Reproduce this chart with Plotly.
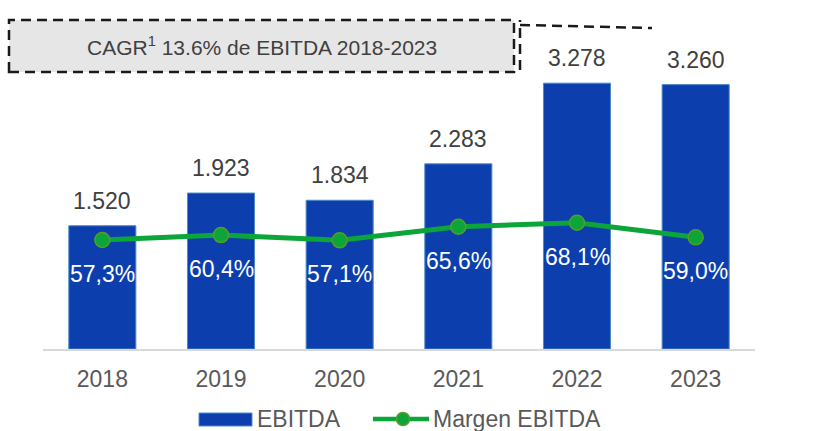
import plotly.graph_objects as go

years = ["2018", "2019", "2020", "2021", "2022", "2023"]
ebitda = [1520, 1923, 1834, 2283, 3278, 3260]
ebitda_labels = ["1.520", "1.923", "1.834", "2.283", "3.278", "3.260"]
margin = [57.3, 60.4, 57.1, 65.6, 68.1, 59.0]
margin_labels = ["57,3%", "60,4%", "57,1%", "65,6%", "68,1%", "59,0%"]
cagr_text = "CAGR<sup>1</sup> 13.6% de EBITDA 2018-2023"
legend_names = ["EBITDA", "Margen EBITDA"]

W, H = 819, 431
L, R, T, B = 43, 64, 20, 82
PW = W - L - R
PH = H - T - B

BAR = "#0c3fad"
BAR_EDGE = "#4f8ac8"
GREEN = "#0ba53a"
GREEN_EDGE = "#5a9a2a"
FONT = "Liberation Sans, Arial, sans-serif"


def px(x):
    return (x - L) / PW


def py(y):
    return (H - B - y) / PH


fig = go.Figure()
fig.add_trace(go.Bar(
    x=years, y=ebitda, name=legend_names[0],
    marker=dict(color=BAR, line=dict(color=BAR_EDGE, width=1)),
    showlegend=False, hoverinfo="x+y",
))
fig.add_trace(go.Scatter(
    x=years, y=margin, name=legend_names[1], yaxis="y2",
    mode="lines+markers",
    line=dict(color=GREEN, width=5),
    marker=dict(size=15, color=GREEN, line=dict(color=GREEN_EDGE, width=1.5)),
    showlegend=False,
))

annotations = []
for i, (v, t) in enumerate(zip(ebitda, ebitda_labels)):
    annotations.append(dict(x=i, y=v, xref="x", yref="y", text=t, showarrow=False,
                            yanchor="middle", yshift=25,
                            font=dict(family=FONT, size=23, color="#404040")))
for i, (v, t) in enumerate(zip(margin, margin_labels)):
    annotations.append(dict(x=i, y=v, xref="x", yref="y2", text=t, showarrow=False,
                            yanchor="middle", yshift=-34,
                            font=dict(family=FONT, size=23, color="#ffffff")))

# CAGR box text
annotations.append(dict(x=px(262), y=py(46), xref="paper", yref="paper", text=cagr_text,
                        showarrow=False, xanchor="center", yanchor="middle",
                        font=dict(family=FONT, size=21, color="#404040")))
# legend texts
annotations.append(dict(x=px(255), y=py(419), xref="paper", yref="paper", text=legend_names[0],
                        showarrow=False, xanchor="left", yanchor="middle",
                        font=dict(family=FONT, size=23, color="#595959")))
annotations.append(dict(x=px(431), y=py(419), xref="paper", yref="paper", text=legend_names[1],
                        showarrow=False, xanchor="left", yanchor="middle",
                        font=dict(family=FONT, size=23, color="#595959")))

DASH = "10px,6px"
shapes = [
    dict(type="rect", xref="paper", yref="paper", x0=px(9), x1=px(514), y0=py(72), y1=py(20),
         fillcolor="#e6e6e6", line=dict(color="#1a1a1a", width=2.5, dash=DASH), layer="below"),
    dict(type="line", xref="paper", yref="paper", x0=px(520), x1=px(520), y0=py(70), y1=py(20),
         line=dict(color="#1a1a1a", width=2.5, dash=DASH)),
    dict(type="line", xref="paper", yref="paper", x0=px(520), x1=px(652), y0=py(25), y1=py(28),
         line=dict(color="#1a1a1a", width=2.5, dash=DASH)),
    # legend symbols
    dict(type="rect", xref="paper", yref="paper", x0=px(199), x1=px(252), y0=py(426), y1=py(413),
         fillcolor=BAR, line=dict(color=BAR_EDGE, width=1)),
    dict(type="line", xref="paper", yref="paper", x0=px(373), x1=px(429), y0=py(419), y1=py(419),
         line=dict(color=GREEN, width=4.5)),
    dict(type="circle", xref="paper", yref="paper", x0=px(396.5), x1=px(409.5), y0=py(425.5), y1=py(412.5),
         fillcolor=GREEN, line=dict(color=GREEN_EDGE, width=1.5)),
]

fig.update_layout(
    width=W, height=H,
    margin=dict(l=L, r=R, t=T, b=B, pad=0),
    paper_bgcolor="white", plot_bgcolor="rgba(0,0,0,0)",
    bargap=0.435,
    showlegend=False,
    font=dict(family=FONT, size=23, color="#595959"),
    xaxis=dict(type="category", showline=True, linecolor="#d9d9d9", linewidth=2, showgrid=False,
               zeroline=False, ticks="", tickfont=dict(family=FONT, size=23, color="#595959"),
               ticklabelstandoff=8, range=[-0.5, 5.5]),
    yaxis=dict(visible=False, range=[0, PH / 0.0811]),
    yaxis2=dict(visible=False, overlaying="y", range=[-10.8, 194.8]),
    annotations=annotations,
    shapes=shapes,
)

fig.write_html("out.html", config={"displayModeBar": False},
               post_script="document.body.style.margin='0';")
